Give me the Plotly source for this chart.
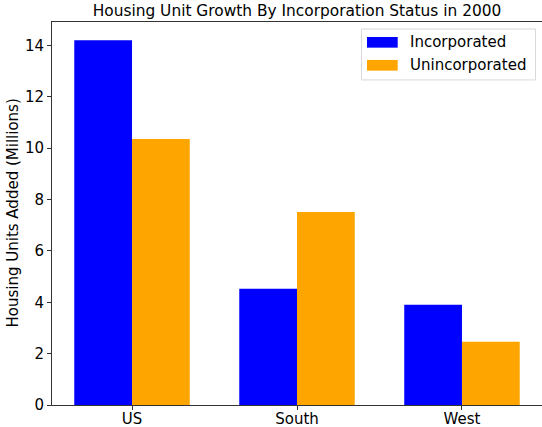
import plotly.graph_objects as go

regions = ["US", "South", "West"]
incorporated = [14.2, 4.53, 3.90]
unincorporated = [10.36, 7.51, 2.46]
series_names = ["Incorporated", "Unincorporated"]
series_colors = ["#0000ff", "#ffa500"]

W, H = 542, 427
L, R, T, B = 52, 0, 22, 21.5
FONT = "DejaVu Sans"

fig = go.Figure()
for name, vals, col in zip(series_names, [incorporated, unincorporated], series_colors):
    fig.add_trace(go.Bar(x=regions, y=vals, name=name, marker=dict(color=col, line=dict(width=0)),
                         showlegend=False))

pw = W - L - R
ph = H - T - B
def px(x):
    return (x - L) / pw
def py(y):
    return 1 - (y - T) / ph

shapes = [
    dict(type="rect", xref="paper", yref="paper", x0=px(361.5), x1=px(535.5), y0=py(80), y1=py(29),
         line=dict(color="#d9d9d9", width=1), fillcolor="rgba(255,255,255,0.8)", layer="above"),
]
annotations = []
rows = [(37, 47.7, 42.5), (60, 70.7, 65.5)]
for (y0, y1, yc), name, col in zip(rows, series_names, series_colors):
    shapes.append(dict(type="rect", xref="paper", yref="paper", x0=px(367), x1=px(397.7),
                       y0=py(y1), y1=py(y0), line=dict(width=0), fillcolor=col, layer="above"))
    annotations.append(dict(text=name, xref="paper", yref="paper", x=px(408), y=py(yc),
                            xanchor="left", yanchor="middle", showarrow=False,
                            font=dict(family=FONT, size=15, color="#000")))

# y-axis title as rotated text
annotations.append(dict(text="Housing Units Added (Millions)", xref="paper", yref="paper",
                        x=px(12), y=0.5, xanchor="center", yanchor="middle", textangle=-90,
                        showarrow=False, font=dict(family=FONT, size=15, color="#000")))

fig.update_layout(
    width=W, height=H,
    margin=dict(l=L, r=R, t=T, b=B, pad=0, autoexpand=False),
    paper_bgcolor="white", plot_bgcolor="white",
    barmode="group", bargap=0.3, bargroupgap=0,
    font=dict(family=FONT, size=15, color="#000"),
    title=dict(text="Housing Unit Growth By Incorporation Status in 2000", xref="paper", x=0.5,
               xanchor="center", yref="container", y=1 - 11 / H, yanchor="middle",
               font=dict(family=FONT, size=15.4, color="#000")),
    shapes=shapes, annotations=annotations,
    xaxis=dict(range=[-0.485, 2.485], showgrid=False, zeroline=False, showline=True, linecolor="#333",
               linewidth=1, mirror=True, ticks="outside", ticklen=4, tickcolor="#333", automargin=False,
               ticklabelstandoff=-4,
               tickfont=dict(family=FONT, size=15, color="#000")),
    yaxis=dict(range=[0, 14.91], showgrid=False, zeroline=False, showline=True, linecolor="#333",
               linewidth=1, ticks="outside", ticklen=4, tickcolor="#333", dtick=2, automargin=False,
               tickfont=dict(family=FONT, size=15, color="#000")),
)

fig.write_html("out.html", config={"displayModeBar": False},
               post_script="document.body.style.margin='0';document.body.style.overflow='hidden';")
